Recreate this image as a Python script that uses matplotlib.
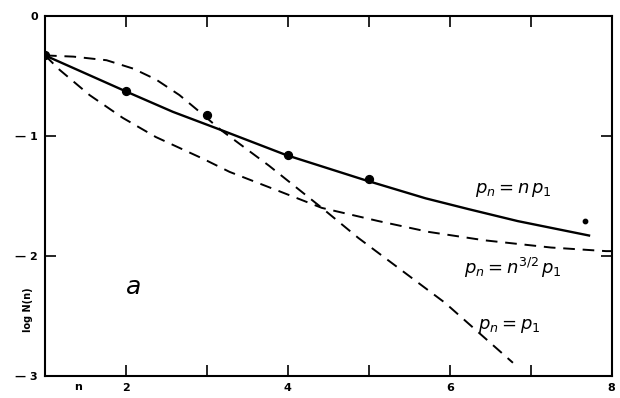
import matplotlib.pyplot as plt
import numpy as np

# measured points
pts_x = [1.0, 2.0, 3.0, 4.0, 5.0, 7.67]
pts_y = [-0.33, -0.63, -0.83, -1.16, -1.36, -1.71]

# p_n = n p_1 (solid)
lin_x = [1.0, 2.0, 2.58, 3.17, 3.98, 4.96, 5.7, 6.23, 6.84, 7.72]
lin_y = [-0.33, -0.63, -0.80, -0.95, -1.16, -1.37, -1.52, -1.61, -1.71, -1.83]

# p_n = n^{3/2} p_1 (dashed)
mid_x = [1.0, 1.18, 1.55, 1.96, 2.37, 2.95, 3.28, 3.89, 4.42, 5.12, 5.74, 6.43, 7.25, 7.93, 8.0]
mid_y = [-0.33, -0.45, -0.66, -0.85, -1.01, -1.19, -1.30, -1.46, -1.60, -1.71, -1.80, -1.87, -1.93, -1.96, -1.96]

# p_n = p_1 (dashed, steep)
con_x = [1.0, 1.35, 1.76, 2.09, 2.37, 2.66, 2.91, 3.17, 3.77, 4.42, 4.87, 5.94, 6.78]
con_y = [-0.33, -0.34, -0.37, -0.44, -0.53, -0.66, -0.80, -0.95, -1.25, -1.60, -1.85, -2.39, -2.89]

xticks = [2, 3, 4, 5, 6, 7, 8]
xtick_labels = ['2', '', '4', '', '6', '', '8']
yticks = [0, -1, -2, -3]
ytick_labels = ['0', '— 1', '— 2', '— 3']

fig = plt.figure(figsize=(6.2, 3.98), dpi=100)
ax = fig.add_axes([0.0726, 0.0553, 0.914, 0.905])

ax.plot(lin_x, lin_y, color='black', lw=1.7, solid_joinstyle='round')
ax.plot(mid_x, mid_y, color='black', lw=1.4, dashes=(6, 4))
ax.plot(con_x, con_y, color='black', lw=1.4, dashes=(6, 4))
ax.scatter(pts_x[:-1], pts_y[:-1], s=32, color='black', zorder=3)
ax.scatter(pts_x[-1:], pts_y[-1:], s=10, color='black', zorder=3)

ax.set_xlim(1, 8)
ax.set_ylim(-3, 0)

ax.set_xticks(xticks)
ax.set_xticklabels(xtick_labels, fontsize=8, fontweight='bold')
ax.set_yticks(yticks)
ax.set_yticklabels(ytick_labels, fontsize=8, fontweight='bold')
ax.tick_params(axis='both', direction='in', length=8, width=1.2,
               top=True, right=True, pad=5)
for s in ax.spines.values():
    s.set_linewidth(1.5)

ax.text(1.41, -3.05, 'n', fontsize=8, fontweight='bold', ha='center', va='top')
ax.text(-0.03, -2.45, 'log N(n)', transform=ax.get_yaxis_transform(),
        rotation=90, fontsize=7, fontweight='bold', ha='center', va='center')

ax.text(2.08, -2.26, r'$a$', fontsize=18, ha='center', va='center')
ax.text(6.78, -1.45, r'$p_n = n\,p_1$', fontsize=13, ha='center', va='center')
ax.text(6.78, -2.1, r'$p_n = n^{3/2}\,p_1$', fontsize=13, ha='center', va='center')
ax.text(6.73, -2.58, r'$p_n = p_1$', fontsize=13, ha='center', va='center')

fig.savefig('out.png', dpi=100)
